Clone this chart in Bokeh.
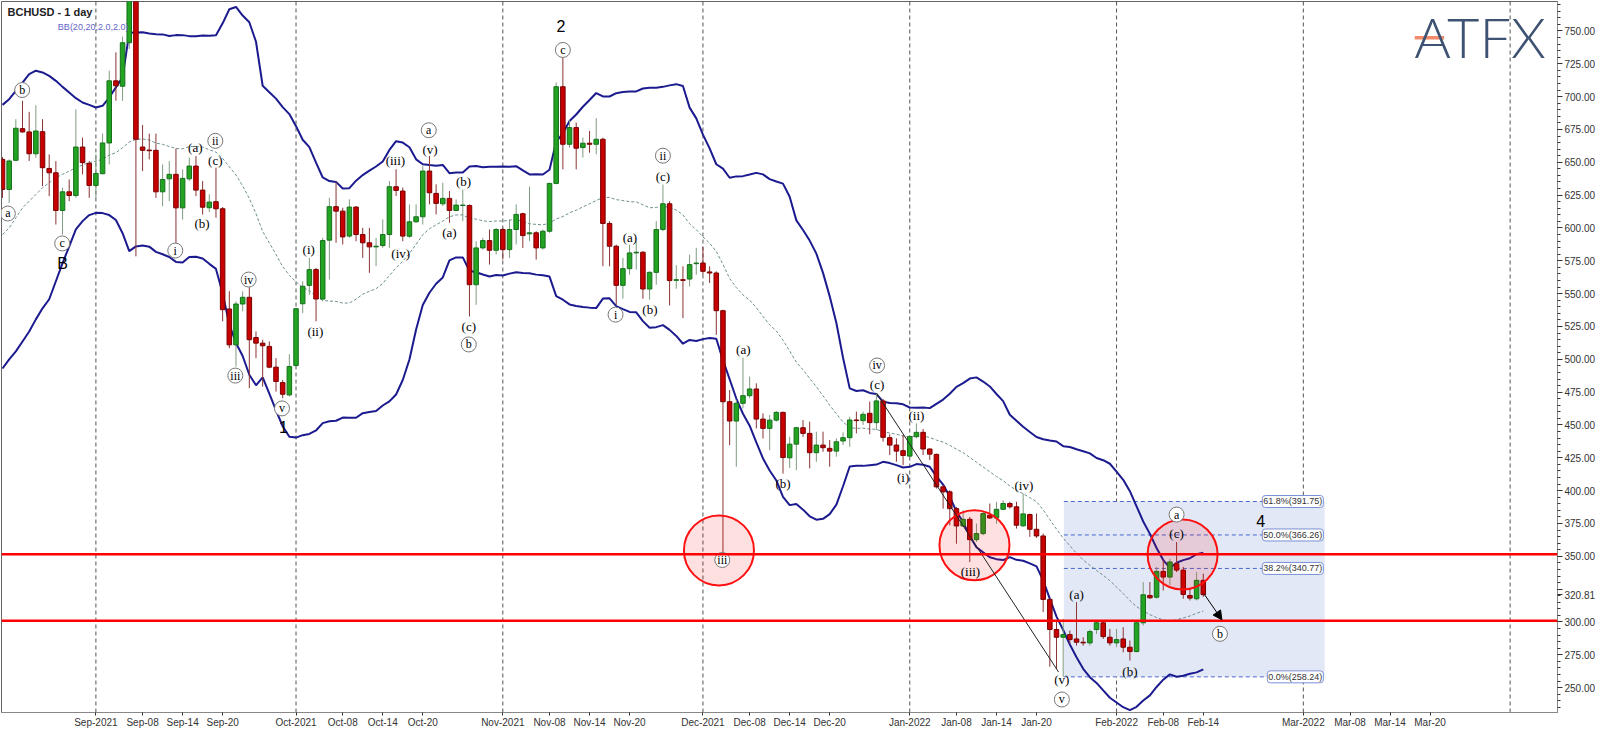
import numpy as np
import pandas as pd
from bokeh.plotting import figure
from bokeh.models import (Range1d, FixedTicker, NumeralTickFormatter, ColumnDataSource,
                          Label, Span, BoxAnnotation, Arrow, NormalHead)
from bokeh.embed import file_html
from bokeh.resources import INLINE
from bokeh.core.properties import value

# ---------------- data (day index 0 = 2021-08-18) ----------------
opens = [652.2,629.3,651.5,675.6,673.1,656.5,673.3,645.3,642.0,613.3,627.5,624.7,661.6,649.2,632.4,641.3,664.7,712.0,707.9,741.0,
         785.0,661.6,659.3,659.1,627.5,637.4,640.8,615.3,637.4,647.1,628.8,615.4,620.0,614.6,538.3,511.0,542.1,547.2,516.6,512.3,
         509.8,494.0,482.3,472.9,495.3,542.3,556.3,568.3,545.9,590.7,616.2,612.8,593.8,615.9,595.0,588.7,585.6,586.6,595.0,631.4,
         628.1,593.7,604.7,608.5,643.3,626.3,618.4,622.5,613.3,617.1,617.1,556.8,584.8,590.4,583.0,598.8,583.5,598.8,610.8,595.5,
         596.3,584.8,597.5,633.9,707.5,663.7,676.4,661.2,664.5,663.7,667.5,603.4,586.1,556.3,569.0,581.0,581.5,553.5,566.2,598.8,
         618.4,560.1,560.6,561.1,572.8,573.3,566.5,565.7,537.0,467.7,453.0,466.5,472.3,477.4,454.5,447.4,453.7,459.6,425.0,435.4,
         447.9,443.6,428.9,434.7,432.2,430.1,437.8,440.3,453.8,453.3,458.9,451.8,468.3,440.3,434.7,430.4,426.3,441.1,444.4,431.7,
         427.6,402.9,399.1,386.3,373.1,378.2,362.7,367.3,381.3,379.2,385.8,390.2,387.7,373.2,381.8,370.6,365.5,317.2,294.3,288.4,
         290.4,287.1,284.6,284.1,294.3,299.4,288.4,284.1,287.1,280.8,277.5,299.4,320.2,318.9,338.5,334.2,344.4,339.5,320.2,317.7,
         331.7]
highs = [654.0,652.2,682.8,696.8,688.4,693.4,682.8,656.0,650.9,630.6,636.9,690.4,668.8,650.9,656.0,671.8,719.7,733.7,745.6,805.0,
         795.0,678.4,671.8,671.8,648.4,650.9,660.4,644.6,653.5,654.8,635.7,625.6,645.9,615.9,551.8,544.1,551.8,554.8,521.2,514.9,
         513.6,500.9,484.3,503.9,539.0,559.4,577.2,569.6,592.5,623.0,635.0,615.4,621.8,616.7,600.1,600.1,592.5,606.5,635.7,644.7,
         630.7,617.9,617.9,647.2,654.8,633.2,634.4,628.1,621.7,629.3,617.9,589.9,592.5,598.8,600.1,600.1,606.4,617.9,611.5,631.4,
         597.5,598.8,634.4,710.8,729.9,682.0,680.2,668.8,673.9,683.6,668.8,605.2,587.3,577.2,587.3,589.9,582.3,567.0,605.2,633.0,
         620.4,571.6,570.8,579.7,584.8,585.6,570.8,567.0,537.7,476.6,469.0,501.3,486.8,481.7,458.8,457.6,460.6,460.1,441.0,448.6,
         453.7,452.5,444.9,444.9,438.5,439.8,444.4,456.3,460.2,460.2,467.8,474.3,469.8,442.9,439.8,442.3,442.3,451.2,446.9,432.2,
         428.3,404.2,400.3,387.6,385.1,380.0,374.9,383.8,390.2,391.4,392.7,391.5,391.5,397.8,382.6,382.6,367.3,317.7,301.1,302.4,
         293.5,315.1,288.4,294.3,299.9,299.9,294.8,294.8,296.0,285.9,299.9,330.4,330.4,341.9,346.9,348.2,360.9,342.0,325.3,338.0,
         336.8]
lows = [622.9,619.1,651.0,672.6,651.0,653.5,631.8,624.2,602.6,595.0,620.4,622.9,640.8,622.9,622.9,640.8,648.4,696.8,696.8,736.2,
        578.4,643.3,652.2,622.9,616.6,620.4,580.9,606.4,635.7,624.2,610.2,612.1,607.8,528.9,508.5,494.5,536.5,478.0,500.9,479.2,
        493.2,475.4,470.3,471.6,494.5,535.2,549.2,528.9,544.1,560.7,588.7,587.4,592.5,589.9,577.2,565.8,570.9,584.8,584.8,624.3,
        589.9,592.5,603.9,602.6,617.9,610.3,616.6,603.9,612.8,605.2,532.6,541.5,583.5,572.1,579.7,575.9,577.2,587.4,584.8,589.9,
        575.9,583.5,596.3,633.2,644.6,661.2,644.6,653.5,657.3,656.1,570.8,570.8,541.5,546.1,564.4,568.3,546.1,545.4,556.8,597.5,
        541.0,553.7,531.4,555.5,564.4,564.4,558.1,518.6,348.1,434.6,418.1,462.6,470.3,447.4,439.7,430.8,452.5,413.0,417.3,415.6,
        441.0,416.9,422.0,429.6,418.2,425.8,434.7,433.4,443.6,450.0,442.9,446.2,437.3,427.1,422.0,419.4,425.8,439.8,427.1,423.3,
        401.6,386.3,373.6,359.6,372.4,345.6,360.9,366.0,378.7,374.9,385.1,386.4,371.1,372.4,364.8,364.0,307.5,266.0,264.2,258.24,
        283.3,282.0,282.0,282.0,290.9,287.1,282.0,280.8,276.9,270.6,276.9,297.3,317.7,317.7,324.0,327.9,338.0,317.7,316.4,316.4,
        319.0]
closes = [629.3,651.0,675.9,673.1,656.5,673.8,645.9,642.0,613.3,627.5,624.7,661.6,649.7,632.4,641.5,664.7,712.0,708.2,741.0,785.0,
          667.5,659.1,658.8,627.5,636.9,640.8,615.3,637.7,647.1,628.8,615.8,619.7,614.6,537.8,511.0,542.1,547.2,514.9,512.3,510.3,
          494.0,483.1,473.4,494.5,538.5,555.6,568.3,545.9,590.4,616.2,612.8,593.2,615.9,595.0,588.7,585.6,586.1,595.0,631.4,628.6,
          593.8,604.7,608.5,643.3,626.8,618.7,622.5,613.3,617.4,617.4,556.8,584.8,590.4,583.0,598.8,583.5,598.8,610.3,594.2,596.3,
          584.8,597.5,633.9,707.5,663.7,676.4,660.7,664.5,663.7,667.5,603.4,586.1,556.3,569.0,581.0,581.5,553.5,566.2,598.8,618.4,
          559.9,560.6,560.1,572.1,573.3,567.0,565.7,537.0,467.7,453.0,466.5,472.3,477.4,454.5,447.4,453.7,459.6,425.2,435.4,447.9,
          443.6,428.9,434.7,432.7,430.1,437.2,440.3,453.8,453.3,458.1,451.8,468.3,440.6,434.7,430.1,426.8,441.1,444.4,431.7,427.8,
          402.9,399.1,386.3,373.1,378.2,362.7,367.3,382.5,379.2,385.8,390.2,387.7,373.7,382.3,370.6,365.5,317.2,294.3,288.4,290.4,
          286.6,284.6,284.1,292.7,299.4,288.9,284.1,286.6,280.8,277.5,299.4,320.7,318.4,338.5,334.2,345.7,339.5,321.0,318.2,331.7,
          320.81]

# Bollinger band values for the first 19 days (before a 20-day window exists)
bb_upper_early = [693.7,698.0,704.4,710.7,717.1,719.7,718.4,715.8,712.0,707.4,703.1,698.8,695.5,693.7,691.7,693.0,699.3,707.0,714.6]
bb_mid_early = [595.0,600.0,607.7,615.3,620.4,625.5,630.6,634.4,638.2,640.8,643.3,645.9,647.9,649.7,650.9,652.2,655.5,657.3,661.1]
bb_lower_early = [493.0,500.0,506.0,513.6,521.2,530.4,538.8,545.7,559.4,573.2,586.0,599.0,605.2,609.8,611.5,611.3,609.8,606.0,596.0]

# axis ticks
month_start_days = [14, 44, 75, 105, 136, 167, 195, 226]
tick_days = [14, 21, 27, 33, 44, 51, 57, 63, 75, 82, 88, 94, 105, 112, 118, 124,
             136, 143, 149, 155, 167, 174, 180, 195, 202, 208, 214]
tick_labels = ["Sep-2021", "Sep-08", "Sep-14", "Sep-20", "Oct-2021", "Oct-08", "Oct-14", "Oct-20",
               "Nov-2021", "Nov-08", "Nov-14", "Nov-20", "Dec-2021", "Dec-08", "Dec-14", "Dec-20",
               "Jan-2022", "Jan-08", "Jan-14", "Jan-20", "Feb-2022", "Feb-08", "Feb-14",
               "Mar-2022", "Mar-08", "Mar-14", "Mar-20"]
price_ticks = list(range(250, 776, 25))

# levels
red_levels = [351.5, 301.0]
fib_levels = [391.75, 366.26, 340.77, 258.24]
fib_labels = ["61.8%(391.75)", "50.0%(366.26)", "38.2%(340.77)", "0.0%(258.24)"]
last_price = 320.81

# wave labels
circ_text = ["b", "a", "c", "ii", "i", "iii", "iv", "v", "a", "b", "c", "ii", "i", "iii", "iv", "a", "b", "v"]
circ_x = [2.95, 0.8, 8.95, 31.9, 25.9, 34.9, 36.9, 41.9, 63.9, 69.9, 84.0, 99.0, 91.9, 107.9, 131.1, 176.0, 182.5, 158.8]
circ_y = [705, 611, 588.2, 666.3, 582.8, 487.6, 560.7, 462.6, 674.4, 511.3, 735.5, 655, 534, 347.2, 495.3, 381.8, 291, 241]

par_text = ["(a)", "(c)", "(b)", "(i)", "(ii)", "(iii)", "(iv)", "(v)", "(b)", "(a)", "(c)", "(c)", "(a)", "(b)",
            "(a)", "(b)", "(c)", "(ii)", "(i)", "(iii)", "(iv)", "(a)", "(b)", "(c)", "(v)"]
par_x = [28.9, 31.9, 29.9, 45.9, 46.9, 58.9, 59.7, 64.1, 69.1, 67.0, 69.9, 99.0, 94.05, 97.05,
         111.05, 117.0, 131.1, 137.0, 135.0, 145.1, 153.1, 161.0, 169.0, 176.0, 158.8]
par_y = [661.1, 651, 603.1, 583.6, 521, 651, 580.3, 660, 635.7, 596.3, 525, 639.5, 592.4, 537.8,
         507.3, 405.4, 480.5, 457.1, 409.8, 338.5, 403.7, 320.7, 262.2, 367.3, 256]

big_text = ["B", "1", "2", "4"]
big_x = [9.0, 42.1, 83.7, 188.6]
big_y = [572.6, 448.7, 753.7, 377]

circle_x = [107.4, 145.7, 176.9]
circle_y = [354.5, 358.4, 351.4]

# ---------------- derived ----------------
n = len(closes)
days = list(range(n))
cl = pd.Series(closes)
mid = cl.rolling(20).mean()
sd = cl.rolling(20).std(ddof=0)
bb_mid = bb_mid_early + list(mid.iloc[19:])
bb_up = bb_upper_early + list((mid + 2 * sd).iloc[19:])
bb_lo = bb_lower_early + list((mid - 2 * sd).iloc[19:])

up = [c >= o for o, c in zip(opens, closes)]
src = ColumnDataSource(dict(
    x=days, o=opens, h=highs, l=lows, c=closes,
    top=[max(o, c) for o, c in zip(opens, closes)],
    bot=[min(o, c) for o, c in zip(opens, closes)],
    fill=["#22a322" if u else "#c80000" for u in up],
    edge=["#15701a" if u else "#780000" for u in up],
    wick=["#7f9c7f" if u else "#8a3434" for u in up],
))

p = figure(width=1600, height=731, x_range=Range1d(-0.15, 233.1), y_range=Range1d(231.1, 772.4),
           y_axis_location="right", toolbar_location=None, output_backend="svg",
           min_border_left=1, min_border_top=1, min_border_right=43, min_border_bottom=19)
p.background_fill_color = "white"
p.border_fill_color = "white"
p.outline_line_color = "#666666"
p.xgrid.visible = False
p.ygrid.visible = False

# axes
ya = p.yaxis[0]
ya.ticker = FixedTicker(ticks=price_ticks + [last_price], minor_ticks=list(range(230, 776, 5)))
ya.formatter = NumeralTickFormatter(format="0.00")
ya.major_label_overrides = {325: ""}
ya.major_label_text_font = "Liberation Sans"
ya.major_label_text_font_size = "10px"
ya.major_label_text_color = "#333333"
ya.axis_line_color = "#888888"
ya.major_tick_line_color = "#333333"
ya.minor_tick_line_color = "#333333"
ya.major_tick_in = 0
ya.major_tick_out = 5
ya.minor_tick_in = 0
ya.minor_tick_out = 3
ya.major_label_standoff = 2

xa = p.xaxis[0]
xa.ticker = FixedTicker(ticks=tick_days)
xa.major_label_overrides = {d: t for d, t in zip(tick_days, tick_labels)}
xa.major_label_text_font = "Liberation Sans"
xa.major_label_text_font_size = "10px"
xa.major_label_text_color = "#333333"
xa.axis_line_color = "#888888"
xa.major_tick_line_color = "#333333"
xa.major_tick_in = 0
xa.major_tick_out = 3
xa.minor_tick_line_color = None
xa.major_label_standoff = 1
xa.axis_label_standoff = 0
xa.axis_label_text_font_size = "0px"

# month grid lines
for d in month_start_days:
    p.add_layout(Span(location=d, dimension="height", line_color="#555555", line_dash="4 3", line_width=1,
                      level="underlay"))

# fib box
box_left, box_right = 159.1, 198.2
p.add_layout(BoxAnnotation(left=box_left, right=box_right, bottom=fib_levels[3], top=fib_levels[0],
                           fill_color="#e2e8f6", fill_alpha=1.0, line_color=None, level="underlay"))
p.segment(x0=[box_left] * 4, x1=[189.2] * 4, y0=fib_levels, y1=fib_levels,
          line_color="#4a68d0", line_dash="4 3", line_width=1)

# bollinger bands
p.line(days, bb_up, line_color="#1b1b8f", line_width=2)
p.line(days, bb_lo, line_color="#1b1b8f", line_width=2)
p.line(days, bb_mid, line_color="#6f9090", line_width=1, line_dash="3 2")

# candles
p.segment(x0="x", x1="x", y0="l", y1="h", line_color="wick", line_width=1, source=src)
p.vbar(x="x", width=0.68, top="top", bottom="bot", fill_color="fill", line_color="edge", line_width=1, source=src)

# red lines
for lv in red_levels:
    p.add_layout(Span(location=lv, dimension="width", line_color="#ff0000", line_width=2.5))

# red circles
p.scatter(circle_x, circle_y, marker="circle", size=70, fill_color="#ff0000", fill_alpha=0.12,
          line_color="#ff1010", line_width=2)

# diagonal line and arrow
p.line([131.0, 158.3], [474.3, 262.0], line_color="#222222", line_width=1)
p.add_layout(Arrow(end=NormalHead(size=9, fill_color="black", line_color="black"),
                   x_start=180.1, y_start=321.5, x_end=182.8, y_end=301.6, line_color="black", line_width=1))

# fib labels
for lv, t in zip(fib_levels, fib_labels):
    p.add_layout(Label(x=198.0, y=lv, text=t, text_align="right", text_baseline="middle",
                       text_font="Liberation Sans", text_font_size="9px", text_color="#333333",
                       background_fill_color="white", border_line_color="#7b8fd4", padding=1,
                       border_radius=3))

# wave labels
p.scatter(circ_x, circ_y, marker="circle", size=15, fill_color="white", line_color="#777777", line_width=1)
p.text(circ_x, circ_y, text=circ_text, text_align="center", text_baseline="middle",
       text_font=value("Liberation Serif"), text_font_size="12px", text_color="black")
p.text(par_x, par_y, text=par_text, text_align="center", text_baseline="middle",
       text_font=value("Liberation Serif"), text_font_size="13px", text_color="black")
p.text(big_x, big_y, text=big_text, text_align="center", text_baseline="middle",
       text_font=value("Liberation Sans"), text_font_size="16px", text_color="black")

# title and indicator name
p.add_layout(Label(x=0.75, y=764.7, text="BCHUSD - 1 day", text_baseline="middle",
                   text_font="Liberation Sans", text_font_size="11px", text_font_style="bold",
                   text_color="#222222"))
p.add_layout(Label(x=8.3, y=752.9, text="BB(20,20,2.0,2.0)", text_baseline="middle",
                   text_font="Liberation Sans", text_font_size="9px", text_color="#6464c8"))

# logo
p.add_layout(Label(x=221.5, y=745.9, text="ATFX", text_align="center", text_baseline="alphabetic",
                   text_font="Lato Light", text_font_size="56px", text_color="#3e5272"))
p.segment(x0=[211.7], x1=[216.1], y0=[744.8], y1=[744.8], line_color="#f28b6b", line_width=3.5)

open("out.html", "w").write(file_html(p, INLINE))
